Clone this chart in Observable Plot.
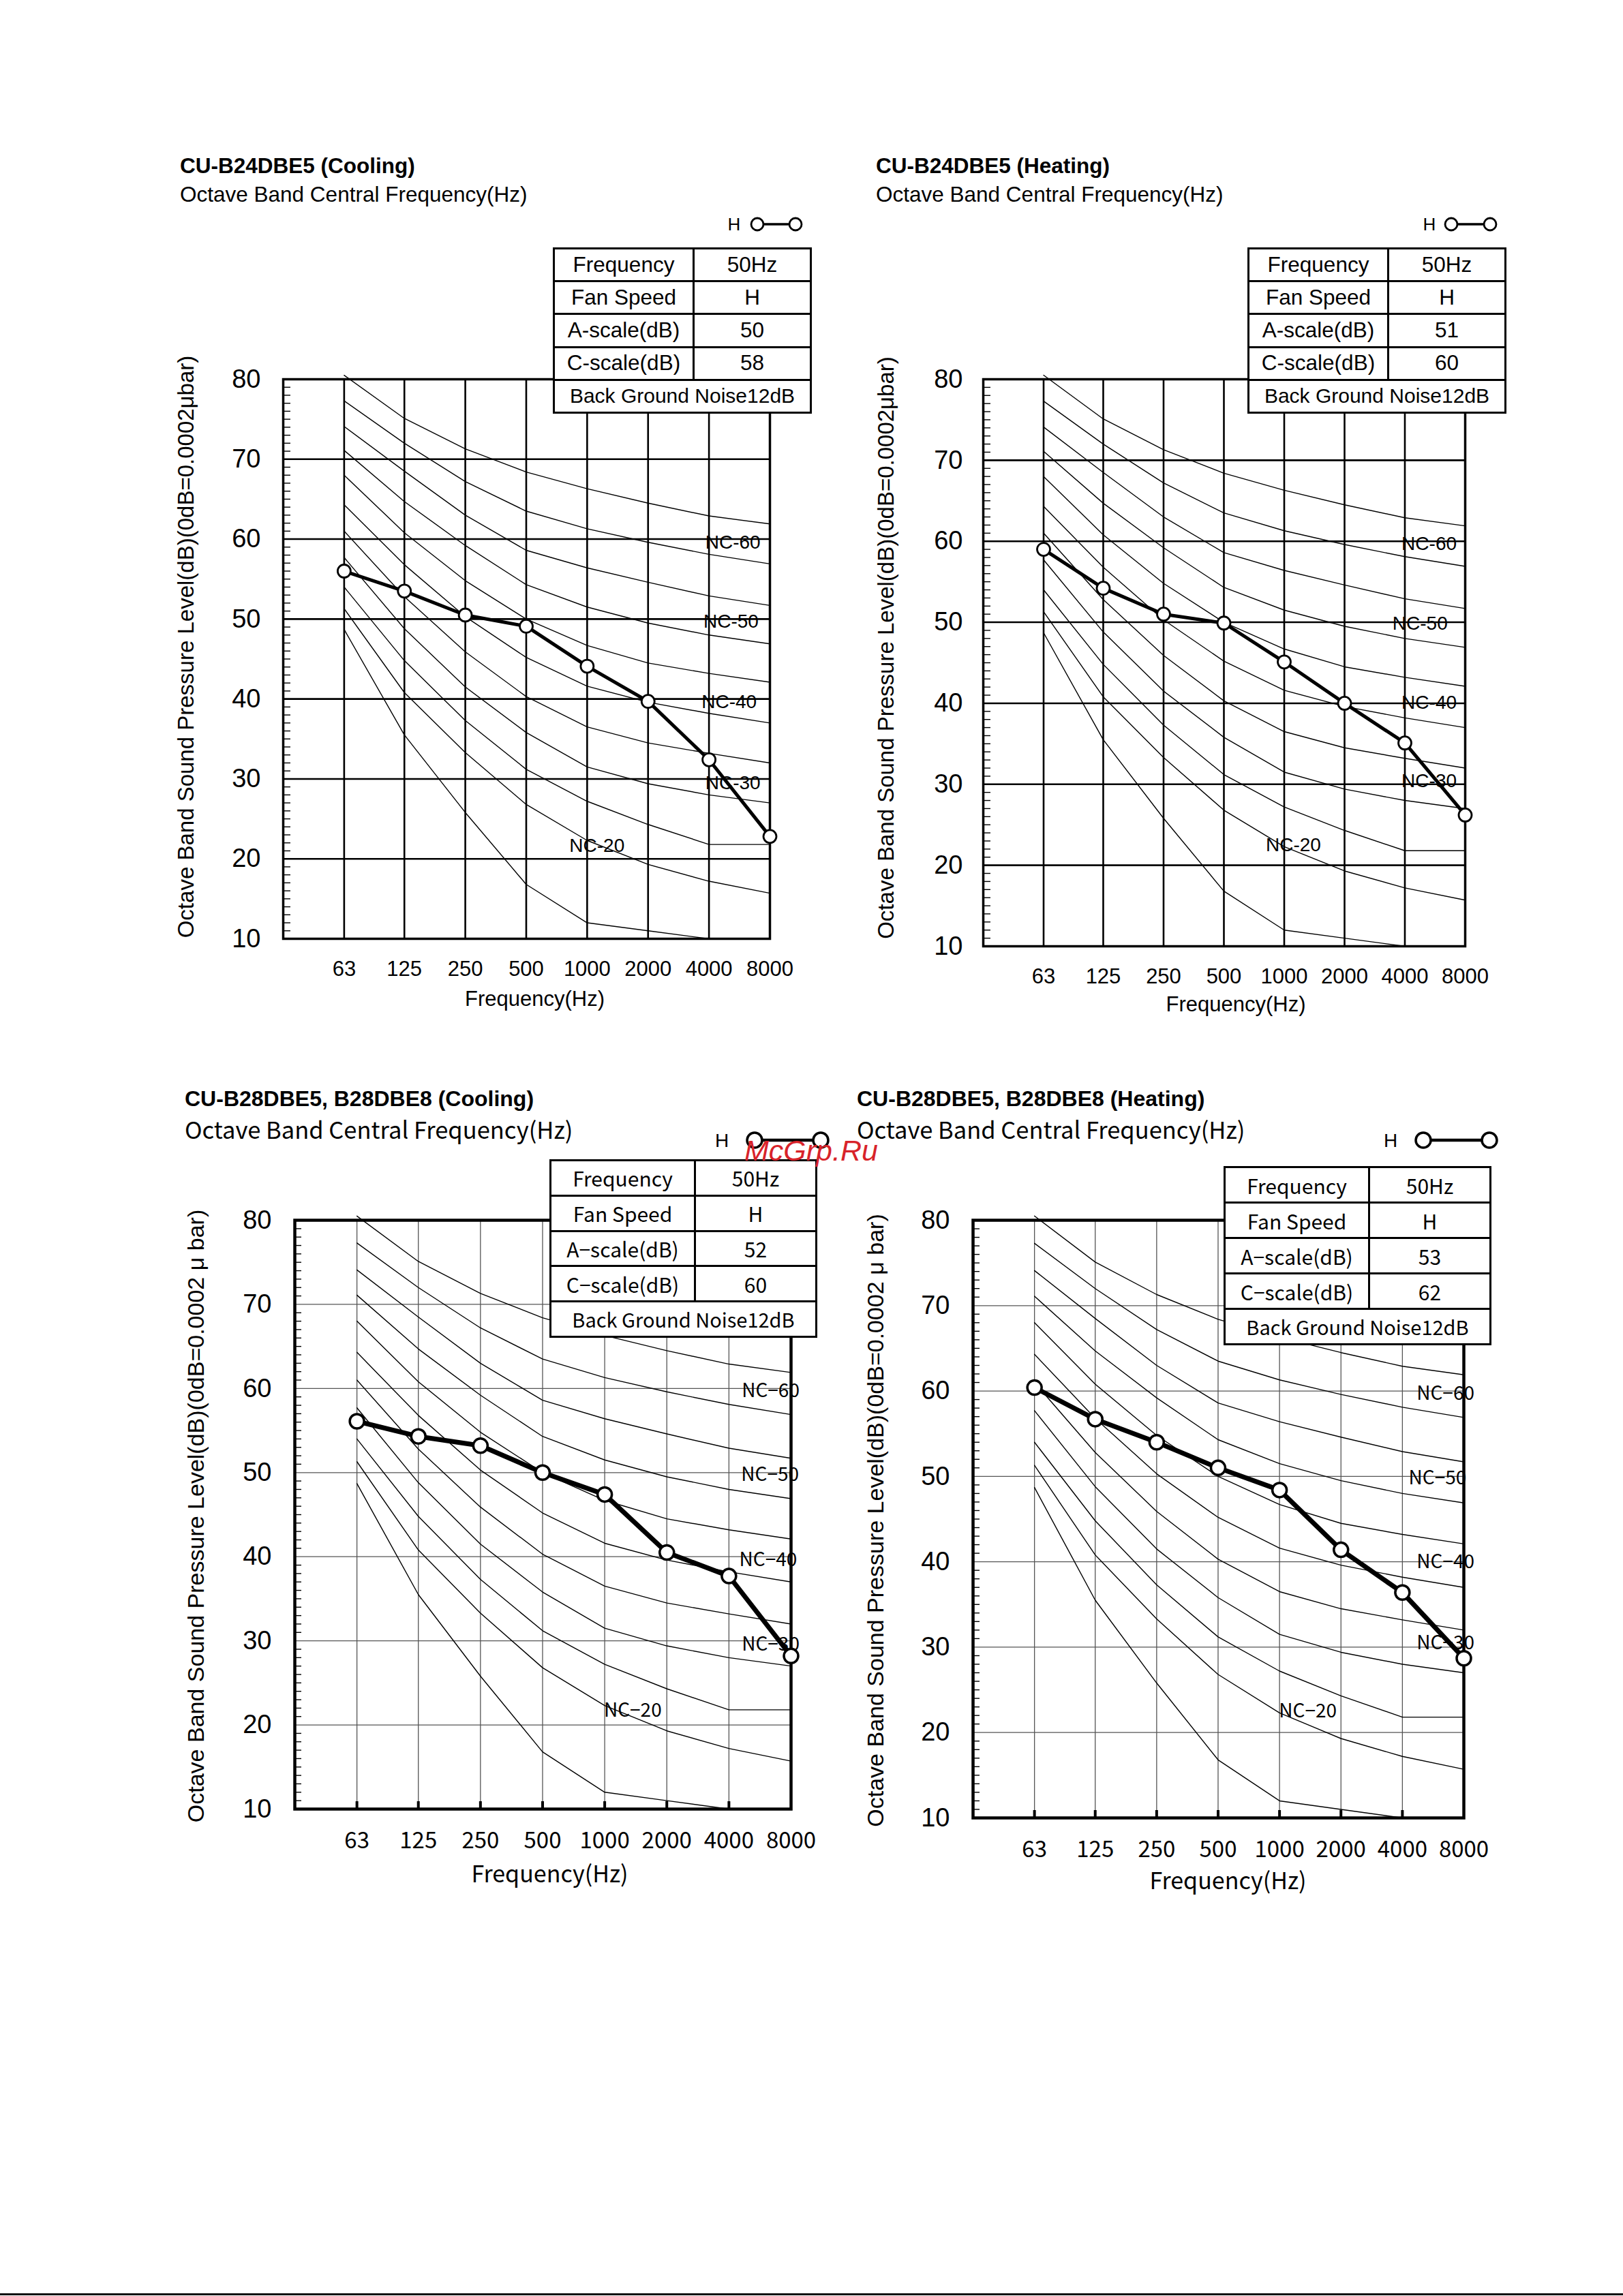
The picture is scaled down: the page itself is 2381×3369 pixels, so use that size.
<!DOCTYPE html>
<html>
<head>
<meta charset="utf-8">
<script src="https://cdn.jsdelivr.net/npm/d3@7"></script>
<script src="https://cdn.jsdelivr.net/npm/@observablehq/plot@0.6"></script>
<style>
  html, body { margin: 0; padding: 0; background: #fff; }
  body { width: 2381px; height: 3369px; position: relative; overflow: hidden; }
  .abs { position: absolute; white-space: nowrap; line-height: 1; color: #000; }
  table.info { position: absolute; border-collapse: collapse; table-layout: fixed; background: #fff; }
  table.info td { border-style: solid; border-color: #000; text-align: center; vertical-align: middle; padding: 0; white-space: nowrap; line-height: 1; }
</style>
</head>
<body>
<script>
// ---------- data ----------
const freqs = [63, 125, 250, 500, 1000, 2000, 4000, 8000];
const yTicks = [10, 20, 30, 40, 50, 60, 70, 80];
const gridDb = [20, 30, 40, 50, 60, 70];
const minorDb = d3.range(11, 80).filter(d => d % 10 !== 0);

// NC reference curves (63 ... 8000 Hz)
const ncNames = ["NC-65", "NC-60", "NC-55", "NC-50", "NC-45", "NC-40", "NC-35", "NC-30", "NC-25", "NC-20", "NC-15"];
const nc65 = [80.5, 75.1, 71.3, 68.4, 66.3, 64.5, 62.9, 61.9];
const nc60 = [77.3, 72.0, 67.2, 63.5, 61.3, 59.6, 58.1, 56.9];
const nc55 = [74.1, 68.5, 63.0, 58.6, 56.4, 54.6, 52.9, 51.7];
const nc50 = [71.1, 64.7, 59.2, 54.3, 51.5, 49.5, 48.0, 46.9];
const nc45 = [68.0, 60.8, 54.8, 50.0, 46.7, 44.5, 43.2, 42.1];
const nc40 = [64.3, 56.8, 50.3, 45.2, 41.6, 39.6, 38.2, 37.0];
const nc35 = [61.0, 52.8, 45.9, 40.3, 36.5, 34.5, 33.2, 32.0];
const nc30 = [57.7, 48.8, 41.5, 35.8, 31.5, 29.4, 28.0, 27.0];
const nc25 = [54.0, 44.8, 37.3, 31.2, 27.2, 24.3, 21.8, 21.8];
const nc20 = [51.3, 40.8, 33.3, 26.8, 22.3, 19.3, 17.2, 15.7];
const nc15 = [48.7, 35.5, 25.8, 16.8, 12.0, 11.0, 10.0];
const ncValues = [nc65, nc60, nc55, nc50, nc45, nc40, nc35, nc30, nc25, nc20, nc15];

// measured octave band levels, fan speed H
const b24Cooling = [56.0, 53.5, 50.5, 49.1, 44.1, 39.7, 32.4, 22.8];
const b24Heating = [59.0, 54.2, 51.0, 49.9, 45.1, 40.0, 35.1, 26.2];
const b28Cooling = [56.1, 54.3, 53.2, 50.0, 47.4, 40.5, 37.7, 28.2];
const b28Heating = [60.4, 56.7, 54.0, 51.0, 48.4, 41.4, 36.4, 28.7];

// info tables
const rowLabelsA = ["Frequency", "Fan Speed", "A-scale(dB)", "C-scale(dB)"];
const rowLabelsB = ["Frequency", "Fan Speed", "A\u2212scale(dB)", "C\u2212scale(dB)"];
const b24CoolingTable = ["50Hz", "H", "50", "58"];
const b24HeatingTable = ["50Hz", "H", "51", "60"];
const b28CoolingTable = ["50Hz", "H", "52", "60"];
const b28HeatingTable = ["50Hz", "H", "53", "62"];
const noiseNote = "Back Ground Noise12dB";

// texts
const titles = ["CU-B24DBE5 (Cooling)", "CU-B24DBE5 (Heating)", "CU-B28DBE5, B28DBE8 (Cooling)", "CU-B28DBE5, B28DBE8 (Heating)"];
const subtitle = "Octave Band Central Frequency(Hz)";
const xTitle = "Frequency(Hz)";
const yTitleA = "Octave Band Sound Pressure Level(dB)(0dB=0.0002\u03bcbar)";
const yTitleB = "Octave Band Sound Pressure Level(dB)(0dB=0.0002 \u03bc bar)";
const legendKey = "H";

// NC curve labels (text, frequency position, level)
const ncLabelTextA = ["NC-60", "NC-50", "NC-40", "NC-30", "NC-20"];
const ncLabelTextB = ["NC\u221260", "NC\u221250", "NC\u221240", "NC\u221230", "NC\u221220"];
const ncLabelHz1 = [5250, 5140, 5030, 5250, 1118];
const ncLabelDb1 = [59.6, 49.7, 39.6, 29.5, 21.6];
const ncLabelHz2 = [5285, 4763, 5285, 5285, 1111];
const ncLabelDb2 = [59.7, 49.8, 40.1, 30.4, 22.5];
const ncLabelHz3 = [6371, 6327, 6196, 6371, 1368];
const ncLabelDb3 = [59.7, 49.7, 39.6, 29.6, 21.7];
const ncLabelHz4 = [6506, 5945, 6506, 6506, 1377];
const ncLabelDb4 = [59.7, 49.8, 40.0, 30.5, 22.5];

const watermark = "McGrp.Ru";

// ---------- styles ----------
const SANS = "'Liberation Sans', Arial, Helvetica, sans-serif";
const GOTHIC = "'Noto Sans CJK JP', 'Liberation Sans', sans-serif";
const styleA = {
  labelFamily: SANS, subFamily: SANS, tableFamily: SANS,
  grid: "#000", gridW: 2.6, frameW: 3.5, minorLen: 11, minorW: 1.4, ncW: 1.4,
  dataW: 5, dotR: 9.5, dotW: 2.8, ncFont: 28, yTickFont: 38, xTickFont: 31,
  xTitleFont: 31, yTitleFont: 33, tableFont: 31.5, noteFont: 30, tableBorder: 3,
  subFont: 31.5, titleFont: 31.5, legendFont: 26, legendR: 9, legendLine: 3.5, bottomTicks: false
};
const styleB = {
  labelFamily: GOTHIC, subFamily: GOTHIC, tableFamily: GOTHIC,
  grid: "#555", gridW: 1.3, frameW: 4.5, minorLen: 10, minorW: 1.4, ncW: 1.4,
  dataW: 7, dotR: 10.5, dotW: 3.5, ncFont: 28, yTickFont: 38, xTickFont: 33,
  xTitleFont: 34, yTitleFont: 34, tableFont: 30, noteFont: 29, tableBorder: 3.5,
  subFont: 34.5, titleFont: 32, legendFont: 28, legendR: 11, legendLine: 4.5, bottomTicks: true
};

const panels = [
  { title: titles[0], series: b24Cooling, tableVals: b24CoolingTable, rowLabels: rowLabelsA,
    ncText: ncLabelTextA, ncHz: ncLabelHz1, ncDb: ncLabelDb1, yTitle: yTitleA, st: styleA,
    titleX: 264, titleY: 244, subY: 286,
    legend: { hx: 1077, c1: 1111, c2: 1167, y: 329 },
    table: { l: 811, t: 363, r: 1188, b: 604, split: 1016 },
    frame: { l: 415, r: 1129, t: 556, b: 1377 },
    yPad: 33, xPad: 32, xtDx: 12, xtDy: 89, ytDx: -142, ytDy: -18 },
  { title: titles[1], series: b24Heating, tableVals: b24HeatingTable, rowLabels: rowLabelsA,
    ncText: ncLabelTextA, ncHz: ncLabelHz2, ncDb: ncLabelDb2, yTitle: yTitleA, st: styleA,
    titleX: 1285, titleY: 244, subY: 286,
    legend: { hx: 2097, c1: 2129, c2: 2186, y: 329 },
    table: { l: 1830, t: 363, r: 2207, b: 604, split: 2035 },
    frame: { l: 1442, r: 2149, t: 556, b: 1388 },
    yPad: 30, xPad: 32, xtDx: 17, xtDy: 86, ytDx: -142, ytDy: -22 },
  { title: titles[2], series: b28Cooling, tableVals: b28CoolingTable, rowLabels: rowLabelsB,
    ncText: ncLabelTextB, ncHz: ncLabelHz3, ncDb: ncLabelDb3, yTitle: yTitleB, st: styleB,
    titleX: 271, titleY: 1612, subY: 1656,
    legend: { hx: 1059, c1: 1107, c2: 1204, y: 1673 },
    table: { l: 806, t: 1701, r: 1196, b: 1960, split: 1018 },
    frame: { l: 432, r: 1160, t: 1790, b: 2654 },
    yPad: 34, xPad: 34, xtDx: 10, xtDy: 97, ytDx: -144, ytDy: 2 },
  { title: titles[3], series: b28Heating, tableVals: b28HeatingTable, rowLabels: rowLabelsB,
    ncText: ncLabelTextB, ncHz: ncLabelHz4, ncDb: ncLabelDb4, yTitle: yTitleB, st: styleB,
    titleX: 1257, titleY: 1612, subY: 1656,
    legend: { hx: 2040, c1: 2088, c2: 2185, y: 1673 },
    table: { l: 1795, t: 1711, r: 2185, b: 1971, split: 2007 },
    frame: { l: 1427, r: 2147, t: 1790, b: 2667 },
    yPad: 34, xPad: 34, xtDx: 14, xtDy: 94, ytDx: -142, ytDy: 2 }
];

// ---------- builders ----------
function addText(txt, x, cy, size, family, weight) {
  const d = document.createElement("div");
  d.className = "abs";
  d.textContent = txt;
  d.style.left = x + "px";
  d.style.top = cy + "px";
  d.style.transform = "translateY(-50%)";
  d.style.fontSize = size + "px";
  d.style.fontFamily = family;
  d.style.fontWeight = weight || "normal";
  document.body.appendChild(d);
  return d;
}

function addLegend(p) {
  const st = p.st, L = p.legend;
  const x0 = L.hx - 20, y0 = L.y - 25;
  const svg = d3.create("svg")
    .attr("width", L.c2 - x0 + st.legendR + 10)
    .attr("height", 50)
    .style("position", "absolute")
    .style("left", x0 + "px")
    .style("top", y0 + "px");
  svg.append("text").attr("x", L.hx - x0).attr("y", 25).attr("dy", "0.36em")
    .attr("text-anchor", "middle").attr("font-family", SANS).attr("font-size", st.legendFont).text(legendKey);
  svg.append("line").attr("x1", L.c1 - x0).attr("x2", L.c2 - x0).attr("y1", 25).attr("y2", 25)
    .attr("stroke", "#000").attr("stroke-width", st.legendLine);
  for (const c of [L.c1, L.c2]) {
    svg.append("circle").attr("cx", c - x0).attr("cy", 25).attr("r", st.legendR)
      .attr("fill", "#fff").attr("stroke", "#000").attr("stroke-width", st.dotW);
  }
  document.body.appendChild(svg.node());
}

function addTable(p) {
  const st = p.st, T = p.table;
  const t = document.createElement("table");
  t.className = "info";
  t.style.left = T.l + "px";
  t.style.top = T.t + "px";
  t.style.width = (T.r - T.l) + "px";
  t.style.height = (T.b - T.t) + "px";
  t.style.fontFamily = st.tableFamily;
  const cg = document.createElement("colgroup");
  for (const w of [T.split - T.l, T.r - T.split]) {
    const c = document.createElement("col");
    c.style.width = w + "px";
    cg.appendChild(c);
  }
  t.appendChild(cg);
  const rh = (T.b - T.t) / 5;
  p.rowLabels.forEach((lab, i) => {
    const tr = document.createElement("tr");
    tr.style.height = rh + "px";
    for (const txt of [lab, p.tableVals[i]]) {
      const td = document.createElement("td");
      td.textContent = txt;
      td.style.borderWidth = st.tableBorder + "px";
      td.style.fontSize = st.tableFont + "px";
      tr.appendChild(td);
    }
    t.appendChild(tr);
  });
  const tr = document.createElement("tr");
  tr.style.height = rh + "px";
  const td = document.createElement("td");
  td.colSpan = 2;
  td.textContent = noiseNote;
  td.style.borderWidth = st.tableBorder + "px";
  td.style.fontSize = st.noteFont + "px";
  tr.appendChild(td);
  t.appendChild(tr);
  document.body.appendChild(t);
}

function addPlot(p) {
  const st = p.st, f = p.frame;
  const mL = 190, mR = 40, mT = 30, mB = 140;
  const W = f.r - f.l + mL + mR, H = f.b - f.t + mT + mB;
  const ncData = ncNames.flatMap((name, k) => ncValues[k].map((v, i) => ({ name, f: freqs[i], v })));
  const series = freqs.map((fq, i) => ({ f: fq, v: p.series[i] }));
  const labels = p.ncText.map((t, i) => ({ t, f: p.ncHz[i], v: p.ncDb[i] }));
  const marks = [
    Plot.ruleY(gridDb, { stroke: st.grid, strokeWidth: st.gridW }),
    Plot.ruleX(freqs.slice(0, 7), { stroke: st.grid, strokeWidth: st.gridW }),
    Plot.ruleY(minorDb, { x1: 31.5, x2: 31.5, insetRight: -st.minorLen, stroke: "#000", strokeWidth: st.minorW }),
    Plot.line(ncData, { x: "f", y: "v", z: "name", stroke: "#000", strokeWidth: st.ncW }),
    Plot.text(labels, { x: "f", y: "v", text: "t", fontSize: st.ncFont, fontFamily: st.labelFamily }),
    Plot.frame({ stroke: "#000", strokeWidth: st.frameW })
  ];
  if (st.bottomTicks) {
    marks.push(Plot.ruleX(freqs.slice(0, 7), { y1: 10, y2: 10, insetTop: -11, insetBottom: 0, stroke: "#000", strokeWidth: 4 }));
  }
  marks.push(
    Plot.line(series, { x: "f", y: "v", stroke: "#000", strokeWidth: st.dataW, strokeLinejoin: "round" }),
    Plot.dot(series, { x: "f", y: "v", r: st.dotR, fill: "#fff", stroke: "#000", strokeWidth: st.dotW }),
    Plot.axisY(yTicks, { anchor: "left", tickSize: 0, tickPadding: p.yPad, fontSize: st.yTickFont, fontFamily: SANS, label: null }),
    Plot.axisX(freqs, { anchor: "bottom", tickSize: 0, tickPadding: p.xPad, fontSize: st.xTickFont, fontFamily: st.labelFamily, tickFormat: d => String(d), label: null }),
    Plot.text([xTitle], { text: d => d, frameAnchor: "bottom", textAnchor: "middle", lineAnchor: "middle", dx: p.xtDx, dy: p.xtDy, fontSize: st.xTitleFont, fontFamily: st.labelFamily }),
    Plot.text([p.yTitle], { text: d => d, frameAnchor: "left", textAnchor: "middle", lineAnchor: "middle", dx: p.ytDx, dy: p.ytDy, rotate: -90, fontSize: st.yTitleFont, fontFamily: SANS })
  );
  const chart = Plot.plot({
    width: W, height: H,
    marginLeft: mL, marginRight: mR, marginTop: mT, marginBottom: mB,
    x: { type: "log", base: 2, domain: [31.5, 8000], label: null },
    y: { domain: [10, 80], label: null },
    style: { background: "transparent", color: "#000", fontFamily: SANS, overflow: "visible" },
    marks
  });
  chart.style.position = "absolute";
  chart.style.left = (f.l - mL) + "px";
  chart.style.top = (f.t - mT) + "px";
  document.body.appendChild(chart);
}

for (const p of panels) {
  addText(p.title, p.titleX, p.titleY, p.st.titleFont, SANS, "bold");
  addText(subtitle, p.titleX, p.subY, p.st.subFont, p.st.subFamily, "normal");
  addLegend(p);
  addPlot(p);
  addTable(p);
}

// site watermark present on the scanned page
const wm = addText(watermark, 1092, 1688, 43, SANS, "normal");
wm.style.fontStyle = "italic";
wm.style.color = "#d8232a";

// page edge line at the bottom of the scan
const edge = document.createElement("div");
edge.className = "abs";
edge.style.cssText += "left:0;top:3365px;width:2381px;height:3px;background:#111;";
document.body.appendChild(edge);
</script>
</body>
</html>
